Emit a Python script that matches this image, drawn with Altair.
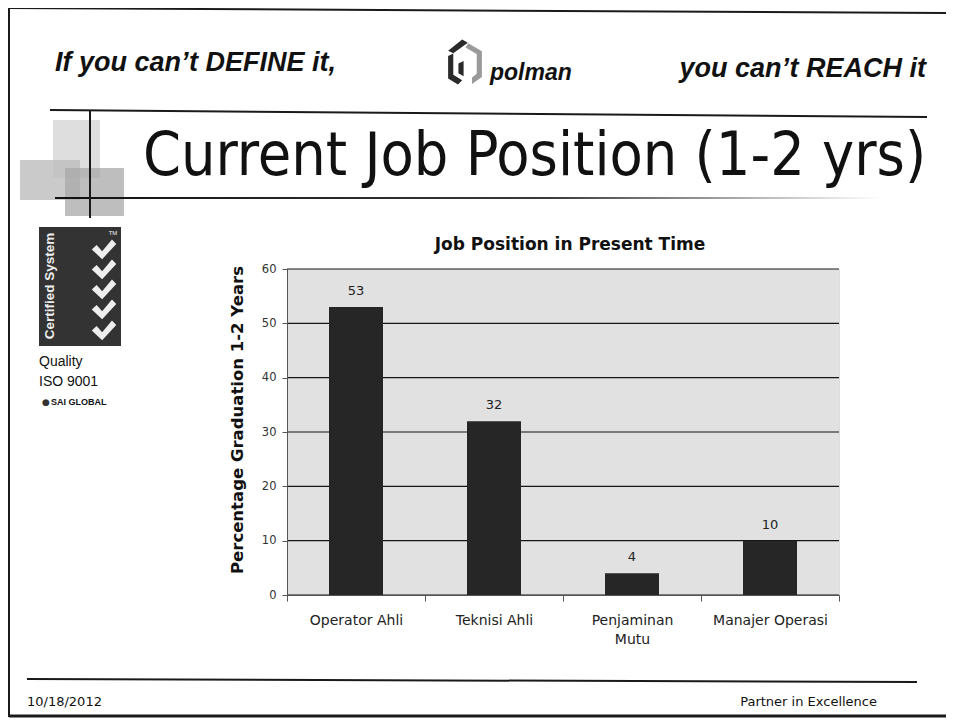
import altair as alt
import pandas as pd

# ---- data ----
categories = ["Operator Ahli", "Teknisi Ahli", "Penjaminan Mutu", "Manajer Operasi"]
values = [53, 32, 4, 10]
y_ticks = [0, 10, 20, 30, 40, 50, 60]

chart_title = "Job Position in Present Time"
y_title = "Percentage Graduation 1-2 Years"
slide_title = "Current Job Position (1-2 yrs)"
header_left = "If you can\u2019t DEFINE it,"
header_mid = "polman"
header_right = "you can\u2019t REACH it"
footer_left = "10/18/2012"
footer_right = "Partner in Excellence"
logo_texts = ["Certified System", "Quality", "ISO 9001", "SAI GLOBAL", "TM"]

df = pd.DataFrame({"Position": categories, "Value": values})
grid_df = pd.DataFrame({"v": y_ticks})

# plot-area origin on the page
OX, OY = 287, 269
W, H = 552, 326
one = alt.Data(values=[{"d": 0}])


def X(v):
    return alt.value(v - OX)


def Y(v):
    return alt.value(v - OY)


def text(s, px, py, size, font="DejaVu Sans", weight="normal", style="normal",
         align="left", color="#111111", angle=0, baseline="middle", **kw):
    return alt.Chart(one).mark_text(
        text=s, font=font, fontSize=size, fontWeight=weight, fontStyle=style,
        align=align, baseline=baseline, color=color, angle=angle, **kw
    ).encode(x=X(px), y=Y(py))


def line(x1, y1, x2, y2, w=2, color="#1a1a1a"):
    return alt.Chart(one).mark_rule(strokeWidth=w, color=color).encode(
        x=X(x1), x2=X(x2), y=Y(y1), y2=Y(y2))


def box(x1, y1, x2, y2, color, opacity=1.0):
    return alt.Chart(one).mark_rect(color=color, opacity=opacity).encode(
        x=X(x1), x2=X(x2), y=Y(y1), y2=Y(y2))


def glyph(path, px, py, size, color):
    return alt.Chart(one).mark_point(
        shape=path, filled=True, color=color, size=size, opacity=1, strokeWidth=0
    ).encode(x=X(px), y=Y(py))


y_scale = alt.Scale(domain=[0, 60], nice=False)
x_enc = alt.X("Position:N", sort=categories, title=None,
              scale=alt.Scale(paddingInner=0, paddingOuter=0),
              axis=alt.Axis(labelAngle=0, labelFont="DejaVu Sans", labelFontSize=14,
                            labelColor="#222222", labelPadding=12, labelLineHeight=19,
                            tickBand="extent", tickSize=6, tickColor="#555555",
                            domainColor="#555555", zindex=1,
                            labelExpr="datum.label == 'Penjaminan Mutu' ? ['Penjaminan', 'Mutu'] : datum.label"))

plot_bg = alt.Chart(one).mark_rect(color="#e1e1e1").encode(
    x=alt.value(0), x2=alt.value(W), y=alt.value(0), y2=alt.value(H))

grid = alt.Chart(grid_df).mark_rule(color="#151515", strokeWidth=1.2).encode(
    y=alt.Y("v:Q", scale=y_scale, title=None),
    x=alt.value(0), x2=alt.value(W))

bars = alt.Chart(df).mark_bar(size=54, color="#262626").encode(
    x=x_enc,
    y=alt.Y("Value:Q", title=None, scale=y_scale,
            axis=alt.Axis(values=y_ticks, labelFont="DejaVu Sans", labelFontSize=11.5,
                          labelColor="#333333", labelPadding=6, tickSize=5,
                          tickColor="#555555", domainColor="#555555", grid=False,
                          zindex=1)),
)

labels = alt.Chart(df).mark_text(font="DejaVu Sans", fontSize=13, color="#222222",
                                 baseline="bottom", dy=-9).encode(
    x=alt.X("Position:N", sort=categories),
    y=alt.Y("Value:Q", scale=y_scale),
    text="Value:Q",
)

grad_line = alt.Chart(one).mark_rect(
    fill=alt.LinearGradient(gradient="linear",
                            stops=[alt.GradientStop(color="#111111", offset=0),
                                   alt.GradientStop(color="#3a3a3a", offset=0.6),
                                   alt.GradientStop(color="#ffffff", offset=1)],
                            x1=0, x2=1, y1=0, y2=0)
).encode(x=X(55), x2=X(880), y=Y(197), y2=Y(199))

ICON_DARK = ("M -0.12 -1 L 0.12 -0.86 L -0.5 -0.42 L -0.72 -0.52 Z "
             "M -0.72 -0.3 L -0.5 -0.4 L -0.5 0.5 L -0.12 0.74 L -0.3 0.92 L -0.72 0.66 Z "
             "M -0.28 0.02 L -0.06 -0.08 L -0.06 0.56 L -0.28 0.44 Z")
ICON_GRAY = ("M 0.14 -0.84 L 0.72 -0.5 L 0.72 0.6 L 0.3 0.9 L 0.3 0.62 L 0.5 0.46 "
             "L 0.5 -0.38 L 0.02 -0.66 Z")
CHECK = "M -1 -0.05 L -0.6 -0.4 L -0.15 0.1 L 0.65 -0.85 L 1 -0.5 L -0.15 0.75 Z"

checks = [glyph(CHECK, 104, cy, 600, "#eeeeee") for cy in [250, 270, 290, 310, 331]]

layers = [
    # slide frame and decorations
    line(9, 8, 946, 13, 2),
    line(9, 8, 9, 717, 2),
    line(9, 716, 946, 716, 3),
    text(header_left, 55, 71, 27, font="Liberation Sans", weight="bold", style="italic",
         baseline="alphabetic"),
    glyph(ICON_DARK, 465, 63, 2200, "#2a2a2a"),
    glyph(ICON_GRAY, 465, 63, 2200, "#9a9a9a"),
    text(header_mid, 490, 80, 23, font="Liberation Sans", weight="bold", style="italic",
         baseline="alphabetic"),
    text(header_right, 926, 77, 27, font="Liberation Sans", weight="bold", style="italic",
         align="right", baseline="alphabetic"),
    line(50, 110, 927, 117, 2),
    box(53, 120, 100, 178, "#d6d6d6", 0.8),
    box(20, 160, 80, 200, "#bdbdbd", 0.8),
    box(65, 168, 124, 216, "#a8a8a8", 0.75),
    grad_line,
    line(90, 110, 90, 218, 2),
    text(slide_title, 143, 175, 60.5, font="DejaVu Sans Condensed", baseline="alphabetic"),
    box(39, 227, 121, 346, "#333333"),
    text(logo_texts[0], 50, 286, 13.5, font="Liberation Sans", weight="bold",
         color="#f0f0f0", angle=270, align="center"),
    text(logo_texts[4], 113, 233, 6, font="Liberation Sans", color="#f0f0f0", align="center"),
    *checks,
    text(logo_texts[1], 39, 362, 14, font="Liberation Sans"),
    text(logo_texts[2], 39, 382, 14, font="Liberation Sans"),
    text("\u25cf", 42, 402, 9, color="#333333"),
    text(logo_texts[3], 51, 402, 9, font="Liberation Sans", weight="bold"),
    line(27, 679, 917, 682, 2),
    text(footer_left, 27, 702, 13),
    text(footer_right, 877, 702, 13, align="right"),
    # chart
    plot_bg,
    grid,
    bars,
    labels,
    text(chart_title, 570, 245, 17, weight="bold", align="center"),
    text(y_title, 238, 420, 16.5, weight="bold", angle=270, align="center"),
]

chart = alt.layer(*layers).properties(
    width=W, height=H,
    padding={"left": OX - 8, "top": OY - 8, "right": 946 - OX - W, "bottom": 718 - OY - H},
    autosize=alt.AutoSizeParams(type="none"),
).configure_view(stroke="transparent").configure(background="white")

chart.save("out.html", embed_options={"renderer": "svg", "actions": False})
